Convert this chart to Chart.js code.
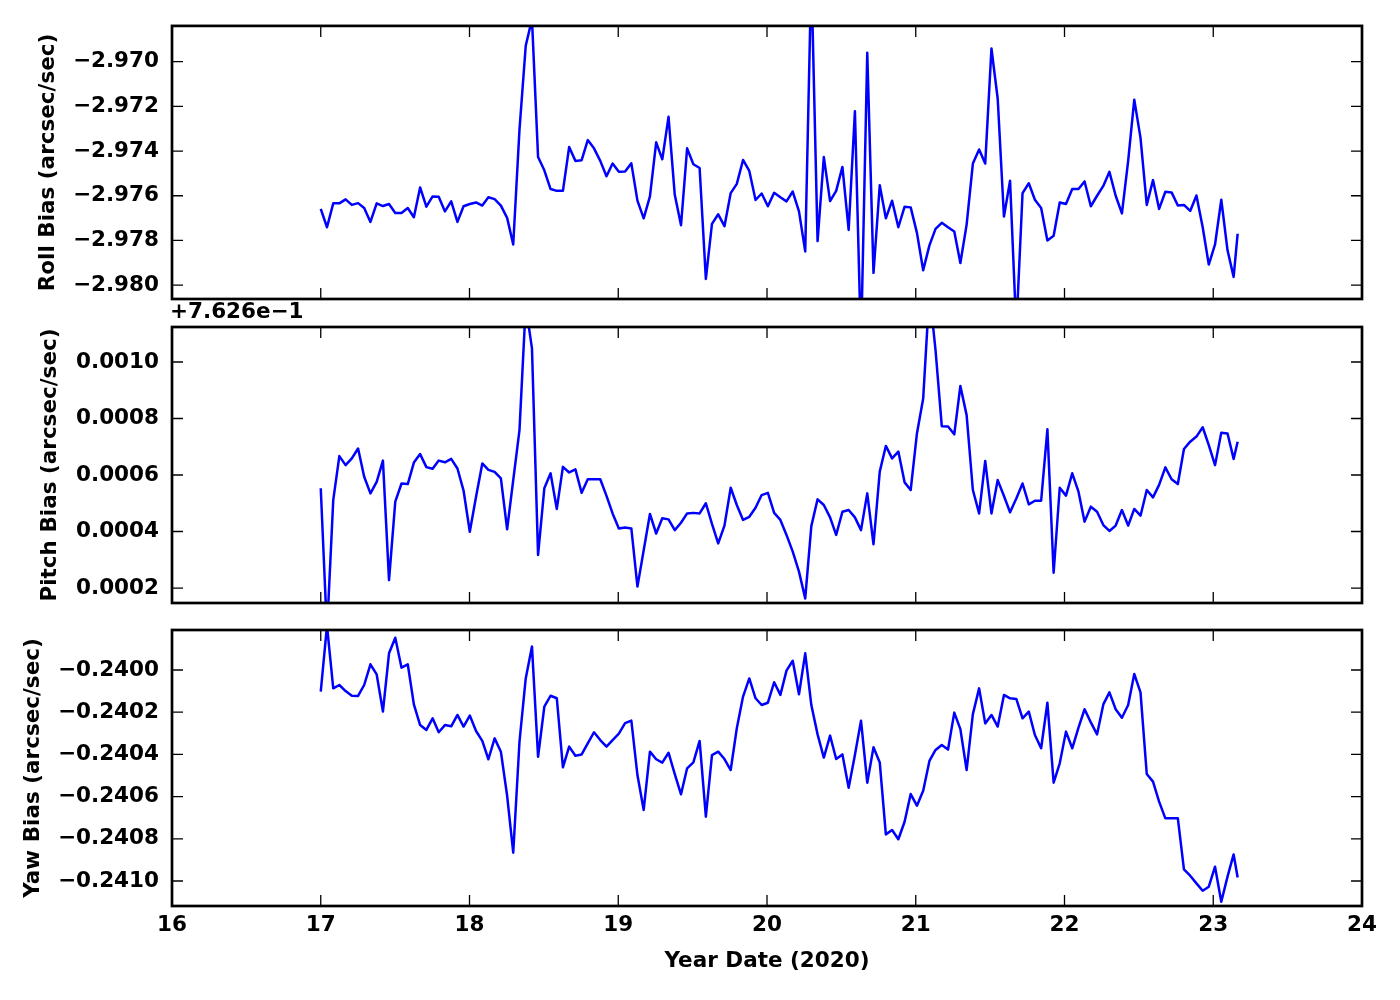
<!DOCTYPE html>
<html><head><meta charset="utf-8">
<script src="https://cdn.jsdelivr.net/npm/chart.js@4.4.0/dist/chart.umd.min.js"></script>
<style>
html,body{margin:0;padding:0;background:#fff;}
#wrap{position:relative;width:1400px;height:1000px;background:#fff;}
canvas{position:absolute;left:0;}
</style></head><body>
<div id="wrap">
<canvas id="c1" width="1400" height="329" style="top:0px"></canvas>
<canvas id="c2" width="1400" height="333" style="top:300px"></canvas>
<canvas id="c3" width="1400" height="400" style="top:600px"></canvas>
</div>
<script>
const dayOfYear = [
17.000,17.042,17.084,17.125,17.167,17.209,17.251,17.292,17.334,17.376,
17.418,17.459,17.501,17.543,17.585,17.626,17.668,17.710,17.752,17.793,
17.835,17.877,17.919,17.960,18.002,18.044,18.086,18.127,18.169,18.211,
18.253,18.294,18.336,18.378,18.420,18.461,18.503,18.545,18.587,18.628,
18.670,18.712,18.754,18.795,18.837,18.879,18.921,18.962,19.004,19.046,
19.088,19.129,19.171,19.213,19.255,19.296,19.338,19.380,19.422,19.463,
19.505,19.547,19.589,19.630,19.672,19.714,19.756,19.797,19.839,19.881,
19.923,19.964,20.006,20.048,20.090,20.131,20.173,20.215,20.257,20.298,
20.340,20.382,20.424,20.465,20.507,20.549,20.591,20.632,20.674,20.716,
20.758,20.799,20.841,20.883,20.925,20.966,21.008,21.050,21.092,21.133,
21.175,21.217,21.259,21.300,21.342,21.384,21.426,21.467,21.509,21.551,
21.593,21.634,21.676,21.718,21.760,21.801,21.843,21.885,21.927,21.968,
22.010,22.052,22.094,22.135,22.177,22.219,22.261,22.302,22.344,22.386,
22.428,22.469,22.511,22.553,22.595,22.636,22.678,22.720,22.762,22.803,
22.845,22.887,22.929,22.970,23.012,23.054,23.096,23.137,23.164];

const rollBias = [
-2.97659,-2.97741,-2.97634,-2.97634,-2.97616,-2.97641,-2.97633,-2.97655,-2.97717,-2.97634,
-2.97646,-2.97637,-2.97677,-2.97677,-2.97655,-2.97696,-2.97563,-2.97649,-2.97603,-2.97604,
-2.97670,-2.97625,-2.97717,-2.97647,-2.97637,-2.97630,-2.97644,-2.97607,-2.97615,-2.97644,
-2.97699,-2.97818,-2.97304,-2.96929,-2.96810,-2.97427,-2.97486,-2.97570,-2.97578,-2.97578,
-2.97382,-2.97444,-2.97441,-2.97351,-2.97388,-2.97444,-2.97513,-2.97456,-2.97493,-2.97492,
-2.97455,-2.97622,-2.97701,-2.97603,-2.97361,-2.97437,-2.97247,-2.97596,-2.97732,-2.97388,
-2.97459,-2.97476,-2.97972,-2.97726,-2.97683,-2.97736,-2.97588,-2.97547,-2.97440,-2.97489,
-2.97619,-2.97590,-2.97647,-2.97587,-2.97607,-2.97625,-2.97581,-2.97670,-2.97849,-2.96600,
-2.97803,-2.97427,-2.97624,-2.97578,-2.97471,-2.97753,-2.97222,-2.98270,-2.96960,-2.97945,
-2.97553,-2.97701,-2.97622,-2.97741,-2.97649,-2.97652,-2.97766,-2.97933,-2.97822,-2.97748,
-2.97721,-2.97741,-2.97760,-2.97901,-2.97729,-2.97456,-2.97393,-2.97456,-2.96941,-2.97166,
-2.97693,-2.97533,-2.98200,-2.97588,-2.97544,-2.97618,-2.97655,-2.97800,-2.97779,-2.97630,
-2.97637,-2.97570,-2.97570,-2.97536,-2.97647,-2.97600,-2.97556,-2.97493,-2.97600,-2.97679,
-2.97444,-2.97170,-2.97341,-2.97641,-2.97530,-2.97659,-2.97582,-2.97585,-2.97644,-2.97641,
-2.97668,-2.97599,-2.97741,-2.97908,-2.97818,-2.97618,-2.97844,-2.97963,-2.97770];

const pitchBias = [
0.763153,0.762645,0.763111,0.763267,0.763235,0.763259,0.763294,0.763194,0.763135,0.763176,
0.763251,0.762828,0.763106,0.763170,0.763168,0.763244,0.763274,0.763228,0.763222,0.763251,
0.763245,0.763257,0.763223,0.763145,0.762999,0.763123,0.763241,0.763218,0.763211,0.763188,
0.763008,0.763182,0.763359,0.763800,0.763648,0.762917,0.763153,0.763206,0.763080,0.763229,
0.763209,0.763220,0.763137,0.763185,0.763185,0.763185,0.763126,0.763064,0.763011,0.763014,
0.763011,0.762805,0.762934,0.763062,0.762993,0.763047,0.763043,0.763005,0.763031,0.763064,
0.763066,0.763064,0.763100,0.763027,0.762958,0.763021,0.763155,0.763094,0.763041,0.763052,
0.763084,0.763129,0.763137,0.763066,0.763041,0.762988,0.762929,0.762858,0.762763,0.763019,
0.763114,0.763094,0.763050,0.762988,0.763070,0.763076,0.763050,0.763005,0.763135,0.762955,
0.763212,0.763303,0.763259,0.763283,0.763174,0.763147,0.763347,0.763471,0.763850,0.763642,
0.763373,0.763372,0.763344,0.763515,0.763412,0.763147,0.763064,0.763250,0.763064,0.763182,
0.763126,0.763068,0.763117,0.763170,0.763096,0.763109,0.763109,0.763362,0.762854,0.763155,
0.763127,0.763206,0.763141,0.763035,0.763088,0.763070,0.763023,0.763002,0.763021,0.763076,
0.763021,0.763080,0.763056,0.763147,0.763121,0.763165,0.763227,0.763185,0.763168,0.763292,
0.763318,0.763336,0.763369,0.763306,0.763235,0.763350,0.763347,0.763257,0.763318];

const yawBias = [
-0.240103,-0.239790,-0.240087,-0.240071,-0.240100,-0.240122,-0.240123,-0.240071,-0.239973,-0.240021,
-0.240197,-0.239921,-0.239847,-0.239989,-0.239973,-0.240163,-0.240261,-0.240284,-0.240229,-0.240295,
-0.240261,-0.240267,-0.240213,-0.240268,-0.240216,-0.240289,-0.240336,-0.240423,-0.240324,-0.240387,
-0.240596,-0.240866,-0.240340,-0.240040,-0.239889,-0.240411,-0.240174,-0.240122,-0.240134,-0.240461,
-0.240363,-0.240406,-0.240400,-0.240348,-0.240295,-0.240332,-0.240363,-0.240332,-0.240302,-0.240252,
-0.240240,-0.240498,-0.240663,-0.240387,-0.240423,-0.240439,-0.240392,-0.240493,-0.240589,-0.240466,
-0.240438,-0.240336,-0.240695,-0.240403,-0.240387,-0.240422,-0.240474,-0.240276,-0.240126,-0.240040,
-0.240134,-0.240166,-0.240155,-0.240058,-0.240118,-0.240003,-0.239956,-0.240115,-0.239921,-0.240166,
-0.240305,-0.240415,-0.240311,-0.240422,-0.240400,-0.240558,-0.240403,-0.240240,-0.240534,-0.240366,
-0.240438,-0.240779,-0.240758,-0.240802,-0.240719,-0.240588,-0.240643,-0.240572,-0.240431,-0.240379,
-0.240355,-0.240377,-0.240202,-0.240280,-0.240474,-0.240209,-0.240087,-0.240253,-0.240213,-0.240268,
-0.240118,-0.240134,-0.240137,-0.240229,-0.240197,-0.240308,-0.240371,-0.240155,-0.240534,-0.240442,
-0.240292,-0.240371,-0.240273,-0.240186,-0.240248,-0.240305,-0.240163,-0.240106,-0.240186,-0.240226,
-0.240166,-0.240019,-0.240106,-0.240493,-0.240529,-0.240624,-0.240703,-0.240703,-0.240703,-0.240945,
-0.240975,-0.241011,-0.241046,-0.241027,-0.240932,-0.241098,-0.240979,-0.240874,-0.240983];

const xTicks = [16, 17, 18, 19, 20, 21, 22, 23, 24];
const rollTicks = [-2.980, -2.978, -2.976, -2.974, -2.972, -2.970];
const pitchOffset = 0.7626;
const pitchOffsetLabel = '+7.626e\u22121';
const pitchTicks = [0.7628, 0.7630, 0.7632, 0.7634, 0.7636];
const yawTicks = [-0.2410, -0.2408, -0.2406, -0.2404, -0.2402, -0.2400];
const xTitle = 'Year Date (2020)';
const rollTitle = 'Roll Bias (arcsec/sec)';
const pitchTitle = 'Pitch Bias (arcsec/sec)';
const yawTitle = 'Yaw Bias (arcsec/sec)';

const FONT = "'DejaVu Sans', sans-serif";
const FS = 21.5;
const mkFont = () => ({family: FONT, size: FS, weight: 'bold'});
const minus = s => s.replace('-', '\u2212');

const framePlugin = {
  id: 'frame',
  afterDatasetsDraw(chart, args, opts) {
    const {ctx, chartArea: a, scales} = chart;
    ctx.save();
    ctx.strokeStyle = '#000';
    ctx.lineWidth = 1.3;
    const L = 11;
    ctx.beginPath();
    for (const v of xTicks) {
      const px = scales.x.getPixelForValue(v);
      ctx.moveTo(px, a.top); ctx.lineTo(px, a.top + L);
      ctx.moveTo(px, a.bottom); ctx.lineTo(px, a.bottom - L);
    }
    for (const v of opts.yTicks) {
      const py = scales.y.getPixelForValue(v);
      ctx.moveTo(a.left, py); ctx.lineTo(a.left + L, py);
      ctx.moveTo(a.right, py); ctx.lineTo(a.right - L, py);
    }
    ctx.stroke();
    ctx.lineWidth = 2.7;
    ctx.strokeRect(a.left, a.top, a.right - a.left, a.bottom - a.top);
    if (opts.offsetText) {
      ctx.font = 'bold ' + FS + 'px ' + FONT;
      ctx.fillStyle = '#000';
      ctx.textBaseline = 'alphabetic';
      ctx.textAlign = 'left';
      ctx.fillText(opts.offsetText, a.left - 2, a.top - 9.5);
    }
    ctx.restore();
  }
};

function makeChart(id, yData, yMin, yMax, yTicks, yTitle, fmt, titlePad, padTop, padBottom, showX, offsetText) {
  const ctx = document.getElementById(id).getContext('2d');
  return new Chart(ctx, {
    type: 'line',
    data: {
      datasets: [{
        data: dayOfYear.map((d, i) => ({x: d, y: yData[i]})),
        borderColor: '#0000ff',
        borderWidth: 2.5,
        pointRadius: 0,
        tension: 0,
        fill: false,
        clip: 0,
        borderJoinStyle: 'round'
      }]
    },
    options: {
      responsive: false,
      animation: false,
      devicePixelRatio: 1,
      layout: {padding: {top: padTop, bottom: padBottom, left: 0, right: 38}},
      plugins: {
        legend: {display: false},
        tooltip: {enabled: false},
        frame: {yTicks: yTicks, offsetText: offsetText}
      },
      scales: {
        x: {
          type: 'linear', min: 16, max: 24,
          display: showX,
          afterBuildTicks: s => { s.ticks = xTicks.map(v => ({value: v})); },
          afterFit: s => { if (showX) s.height = 94; },
          grid: {display: false, drawTicks: false},
          border: {display: false},
          ticks: {font: mkFont(), color: '#000', padding: 7, maxRotation: 0, autoSkip: false,
                  callback: v => String(v)},
          title: {display: showX, text: xTitle, font: mkFont(), color: '#000', padding: {top: 0, bottom: 26}}
        },
        y: {
          type: 'linear', min: yMin, max: yMax,
          afterBuildTicks: s => { s.ticks = yTicks.map(v => ({value: v})); },
          afterFit: s => { s.width = 172; },
          grid: {display: false, drawTicks: false},
          border: {display: false},
          ticks: {font: mkFont(), color: '#000', padding: 13, autoSkip: false, callback: v => fmt(v)},
          title: {display: true, text: yTitle, font: mkFont(), color: '#000', padding: {top: titlePad, bottom: 0}}
        }
      }
    },
    plugins: [framePlugin]
  });
}

makeChart('c1', rollBias, -2.98062, -2.9684, rollTicks, rollTitle,
  v => minus(v.toFixed(3)), 35.9, 24, 30, false, null);
makeChart('c2', pitchBias, pitchOffset + 0.000147, pitchOffset + 0.0011239, pitchTicks, pitchTitle,
  v => (v - pitchOffset).toFixed(4), 37.6, 27, 30, false, pitchOffsetLabel);
makeChart('c3', yawBias, -0.2411184, -0.2398104, yawTicks, yawTitle,
  v => minus(v.toFixed(4)), 20.9, 30, 0, true, null);
</script>
</body></html>
